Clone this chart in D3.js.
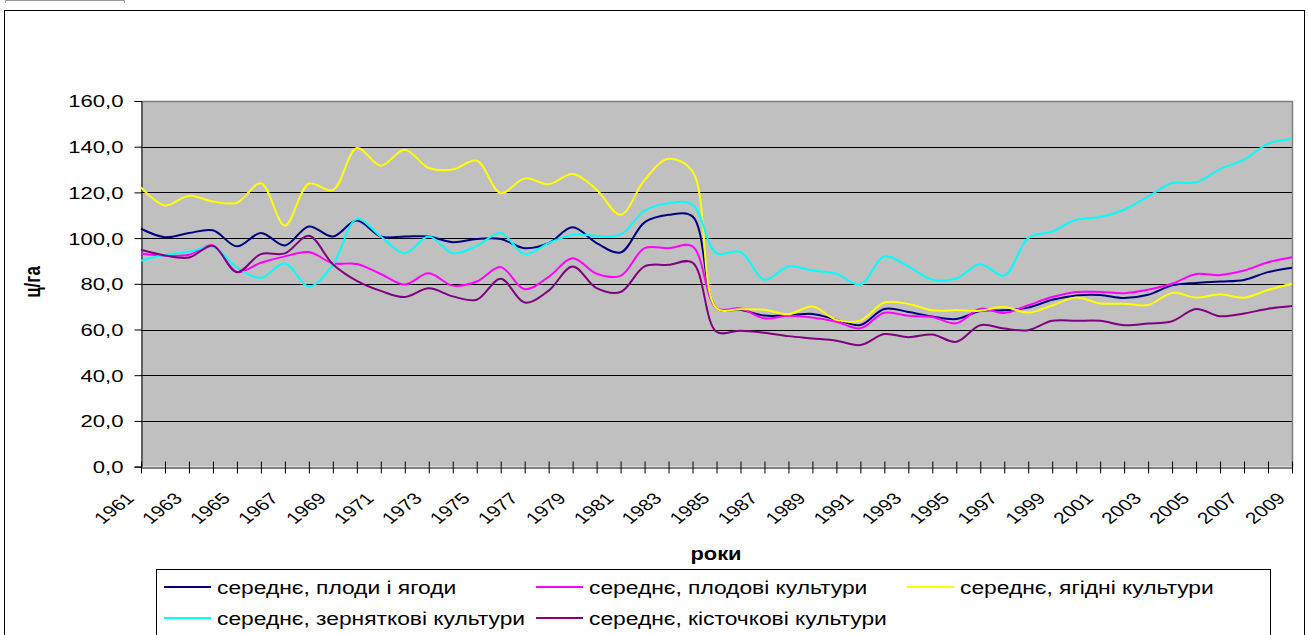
<!DOCTYPE html>
<html>
<head>
<meta charset="utf-8">
<script src="https://cdn.jsdelivr.net/npm/d3@7"></script>
<style>
  body { margin: 0; background: #fff; }
  svg { display: block; font-family: Arial, "Liberation Sans", sans-serif; }
</style>
</head>
<body>
<div id="chart"></div>
<script>
// years on the category axis
const years = d3.range(1961, 2010);

// середнє, плоди і ягоди
const plodyYagody = [104.1, 100.4, 102.2, 103.4, 96.4, 102.2, 96.8, 105.1, 100.7, 107.7,
  100.7, 100.7, 100.7, 98.2, 99.6, 99.6, 95.6, 97.8, 104.7, 97.8,
  93.7, 106.9, 110.2, 109.5, 69.3, 68.6, 66.1, 66.2, 66.8, 64.3,
  62.0, 69.0, 67.7, 65.7, 64.6, 68.1, 68.4, 69.6, 73.0, 74.9,
  75.1, 73.8, 75.2, 79.3, 80.4, 81.0, 81.7, 85.1, 87.0];

// середнє, плодові культури
const plodovi = [93.2, 92.4, 92.7, 96.8, 85.2, 89.2, 92.0, 93.9, 89.0, 88.7,
  84.3, 79.7, 84.6, 79.2, 81.0, 87.3, 77.6, 83.0, 91.2, 84.4,
  83.5, 95.6, 95.6, 96.4, 69.3, 69.2, 64.9, 66.0, 65.2, 63.4,
  60.5, 67.3, 66.0, 65.5, 62.7, 69.1, 67.2, 70.6, 74.2, 76.4,
  76.4, 75.9, 77.4, 80.0, 84.3, 83.8, 85.8, 89.4, 91.6];

// середнє, ягідні культури
const yagidni = [122.2, 114.3, 118.5, 116.0, 115.5, 124.0, 105.5, 123.8, 121.0, 139.4,
  131.7, 138.7, 130.7, 130.0, 133.9, 119.7, 126.1, 123.6, 128.0, 121.2,
  110.2, 125.5, 134.7, 129.2, 69.3, 68.9, 68.6, 66.7, 70.1, 64.2,
  63.9, 71.8, 71.2, 68.4, 68.5, 68.2, 69.9, 67.4, 70.5, 74.0,
  71.4, 71.3, 70.7, 76.0, 74.0, 75.4, 73.9, 77.3, 80.0];

// середнє, зерняткові культури
const zernyatkovi = [90.1, 92.7, 94.0, 96.1, 87.2, 82.6, 89.0, 78.8, 88.3, 108.3,
  100.7, 93.4, 100.7, 93.4, 96.6, 102.2, 93.0, 97.8, 101.5, 101.0,
  101.5, 112.0, 115.3, 114.6, 93.4, 94.0, 81.8, 87.6, 85.8, 84.4,
  79.6, 92.0, 87.6, 81.8, 82.3, 88.6, 83.6, 100.0, 102.9, 108.0,
  109.2, 112.4, 118.2, 124.1, 124.4, 130.2, 134.3, 141.3, 143.4];

// середнє, кісточкові культури
const kistochkovi = [94.9, 92.4, 91.5, 96.6, 85.1, 93.0, 93.3, 101.0, 88.6, 81.3,
  76.9, 74.2, 78.0, 74.5, 73.0, 82.2, 71.8, 77.0, 87.6, 78.1,
  76.4, 87.6, 88.3, 89.3, 59.0, 59.5, 58.6, 57.1, 56.1, 55.1,
  53.2, 58.0, 56.6, 57.8, 54.6, 61.9, 60.4, 59.7, 63.8, 63.8,
  63.8, 61.9, 62.6, 63.6, 69.0, 65.8, 67.0, 69.1, 70.3];

const seriesNames = ['середнє, плоди і ягоди', 'середнє, плодові культури', 'середнє, ягідні культури',
  'середнє, зерняткові культури', 'середнє, кісточкові культури'];
const seriesColors = ['#000080', '#FF00FF', '#FFFF00', '#00FFFF', '#800080'];
const seriesValues = [plodyYagody, plodovi, yagidni, zernyatkovi, kistochkovi];

const yTicks = [0, 20, 40, 60, 80, 100, 120, 140, 160];

const width = 1308, height = 635;
const plot = { left: 141, right: 1292, top: 101, bottom: 466.6 };
const sx = 1.3; // the picture is stretched sideways a bit

const svg = d3.select('#chart').append('svg')
  .attr('width', width)
  .attr('height', height);

// outer chart frame
svg.append('rect')
  .attr('x', 4.5).attr('y', 10.5)
  .attr('width', 1300).attr('height', 640)
  .attr('fill', '#fff')
  .attr('stroke', '#000')
  .attr('stroke-width', 1);

// little leftover bracket at the very top
svg.append('path')
  .attr('d', 'M5.5,3 V0.5 H124.5 V3')
  .attr('fill', 'none')
  .attr('stroke', '#999');

const x = d3.scalePoint().domain(years).range([plot.left, plot.right]);
const y = d3.scaleLinear().domain([0, 160]).range([plot.bottom, plot.top]);

// plot area
svg.append('rect')
  .attr('x', plot.left).attr('y', plot.top)
  .attr('width', plot.right - plot.left)
  .attr('height', plot.bottom - plot.top)
  .attr('fill', '#C0C0C0');

// gridlines
svg.append('g')
  .selectAll('line')
  .data(yTicks.filter(d => d > 0 && d < 160))
  .join('line')
  .attr('x1', plot.left).attr('x2', plot.right)
  .attr('y1', d => Math.round(y(d)) + 0.5)
  .attr('y2', d => Math.round(y(d)) + 0.5)
  .attr('stroke', '#000')
  .attr('stroke-width', 1);

// plot border top and right
svg.append('path')
  .attr('d', 'M' + plot.left + ',' + (Math.round(plot.top) + 0.5) + 'H' + (plot.right + 0.5) + 'V' + plot.bottom)
  .attr('fill', 'none')
  .attr('stroke', '#808080')
  .attr('stroke-width', 1.5);

const fmt = d => d3.format('.1f')(d).replace('.', ',');

// y axis
const yAxis = svg.append('g')
  .attr('transform', 'translate(' + (plot.left + 0.5) + ',0)')
  .call(d3.axisLeft(y).tickValues(yTicks).tickSize(7).tickFormat(fmt));
yAxis.select('.domain').attr('stroke', '#000');
yAxis.selectAll('.tick line').attr('stroke', '#000');
yAxis.selectAll('.tick text')
  .attr('x', 0).attr('dy', '0.35em')
  .attr('fill', '#000')
  .style('font-size', '17px')
  .attr('transform', 'translate(-18,0) scale(' + sx + ',1)');

// x axis
const xAxis = svg.append('g')
  .attr('transform', 'translate(0,' + (Math.round(plot.bottom) + 0.5) + ')')
  .call(d3.axisBottom(x).tickValues(years).tickSize(6).tickSizeOuter(0)
    .tickFormat((d, i) => (i % 2 === 0 ? String(d) : '')));
xAxis.select('.domain').attr('stroke', '#000');
xAxis.selectAll('.tick line').attr('y1', -6).attr('stroke', '#000');
xAxis.selectAll('.tick text')
  .attr('x', 0).attr('y', 0).attr('dy', 0)
  .attr('fill', '#000')
  .attr('text-anchor', 'end')
  .style('font-size', '16px')
  .attr('transform', 'translate(-6,32) scale(' + sx + ',1) rotate(-45)');

// lines
const line = d3.line()
  .x((d, i) => x(years[i]))
  .y(d => y(d))
  .curve(d3.curveCatmullRom.alpha(0.5));

svg.append('g')
  .selectAll('path')
  .data(seriesValues)
  .join('path')
  .attr('d', d => line(d))
  .attr('fill', 'none')
  .attr('stroke', (d, i) => seriesColors[i])
  .attr('stroke-width', 2)
  .attr('stroke-linejoin', 'round');

// axis titles
svg.append('text')
  .attr('transform', 'translate(40,282) scale(' + sx + ',1) rotate(-90)')
  .attr('text-anchor', 'middle')
  .style('font-size', '17px')
  .style('font-weight', 'bold')
  .text('ц/га');

svg.append('text')
  .attr('transform', 'translate(716,560) scale(1.15,1)')
  .attr('text-anchor', 'middle')
  .style('font-size', '19px')
  .style('font-weight', 'bold')
  .text('роки');

// legend
const legend = svg.append('g');
legend.append('rect')
  .attr('x', 156.5).attr('y', 569.5)
  .attr('width', 1114).attr('height', 100)
  .attr('fill', '#fff')
  .attr('stroke', '#000');

const legendCols = [164, 536, 907];
const legendRows = [587, 618];

const items = legend.selectAll('g.item')
  .data(seriesNames)
  .join('g')
  .attr('class', 'item')
  .attr('transform', (d, i) => 'translate(' + legendCols[i % 3] + ',' + legendRows[Math.floor(i / 3)] + ')');

items.append('line')
  .attr('x1', 0).attr('x2', 47)
  .attr('y1', 0).attr('y2', 0)
  .attr('stroke', (d, i) => seriesColors[i])
  .attr('stroke-width', 2);

items.append('text')
  .attr('transform', 'translate(53,0) scale(1.2,1)')
  .attr('dy', '0.35em')
  .style('font-size', '19px')
  .text(d => d);
</script>
</body>
</html>
